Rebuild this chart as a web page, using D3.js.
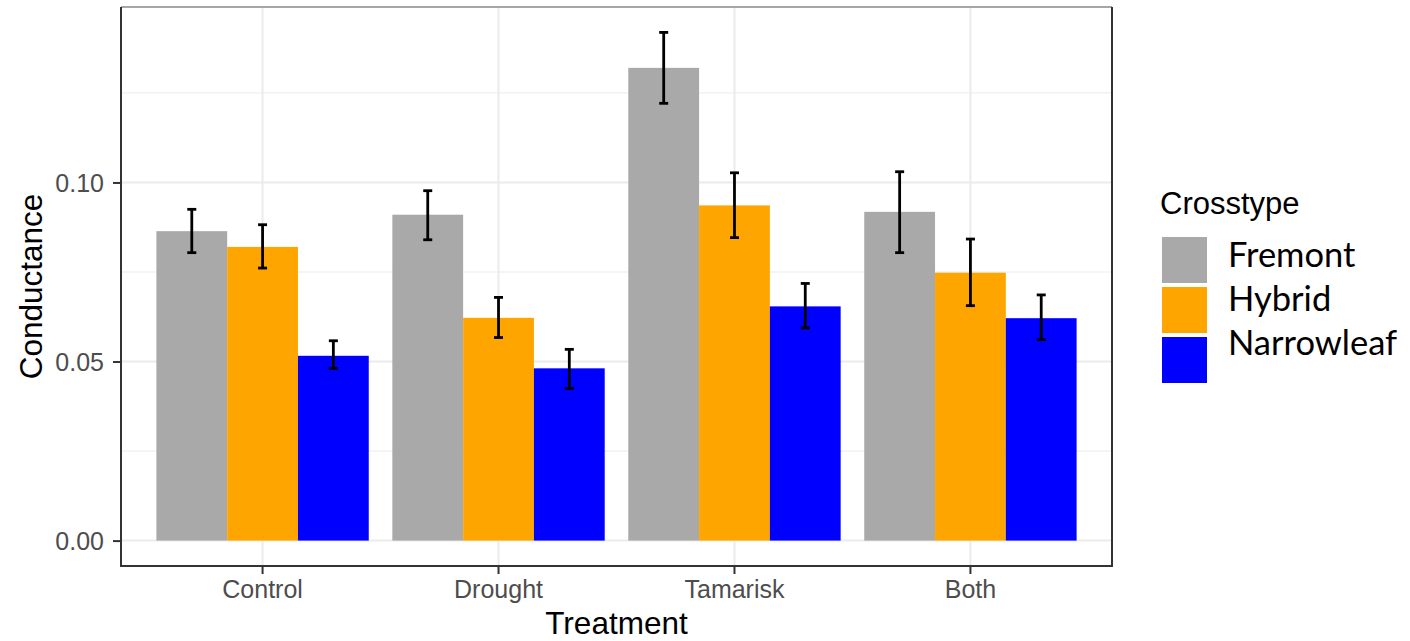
<!DOCTYPE html>
<html>
<head>
<meta charset="utf-8">
<title>Conductance by treatment</title>
<script src="https://d3js.org/d3.v7.min.js"></script>
<style>
  body { margin: 0; background: #fff; }
  text { font-family: "Liberation Sans", Arial, sans-serif; }
</style>
</head>
<body>
<script>
// data
var treatments = ["Control", "Drought", "Tamarisk", "Both"];
var crosstypes = ["Fremont", "Hybrid", "Narrowleaf"];
var colors = ["#A9A9A9", "#FFA500", "#0000FF"];
// mean conductance, one row per treatment, columns follow crosstypes
var means = [
    [0.0864, 0.0820, 0.0516],
    [0.0910, 0.0622, 0.0481],
    [0.1320, 0.0936, 0.0654],
    [0.0918, 0.0748, 0.0621]
];
var errLow = [
    [0.0804, 0.0761, 0.0481],
    [0.0840, 0.0567, 0.0425],
    [0.1221, 0.0846, 0.0594],
    [0.0804, 0.0656, 0.0561]
];
var errHigh = [
    [0.0925, 0.0882, 0.0558],
    [0.0977, 0.0679, 0.0534],
    [0.1419, 0.1027, 0.0718],
    [0.1030, 0.0842, 0.0686]
];
var yTicks = [0, 0.05, 0.10];
var yMinor = [0.025, 0.075, 0.125];

var W = 1410, H = 641;
var pLeft = 121, pRight = 1112, pTop = 7, pBottom = 566;

var svg = d3.select("body").append("svg")
    .attr("width", W)
    .attr("height", H);

var rows = [];
treatments.forEach(function(t, i) {
    crosstypes.forEach(function(c, j) {
        rows.push({t: t, c: c, j: j, v: means[i][j], lo: errLow[i][j], hi: errHigh[i][j]});
    });
});

// ggplot style 5% expansion
var yMax = d3.max(rows, function(d) { return d.hi; });
var pad = yMax * 0.05;
var y = d3.scaleLinear().domain([-pad, yMax + pad]).range([pBottom, pTop]);

var x = d3.scaleBand().domain(treatments).range([pLeft, pRight])
    .paddingInner(0.1).paddingOuter(0.15);
var xSub = d3.scaleBand().domain(crosstypes).range([0, x.bandwidth()]);
var color = d3.scaleOrdinal().domain(crosstypes).range(colors);

// grid
var grid = svg.append("g");
grid.selectAll(".minor").data(yMinor).enter().append("line")
    .attr("x1", pLeft).attr("x2", pRight)
    .attr("y1", function(d) { return y(d); })
    .attr("y2", function(d) { return y(d); })
    .attr("stroke", "#EBEBEB").attr("stroke-width", 1);
grid.selectAll(".major").data(yTicks).enter().append("line")
    .attr("x1", pLeft).attr("x2", pRight)
    .attr("y1", function(d) { return y(d); })
    .attr("y2", function(d) { return y(d); })
    .attr("stroke", "#EBEBEB").attr("stroke-width", 2);
grid.selectAll(".vx").data(treatments).enter().append("line")
    .attr("x1", function(d) { return x(d) + x.bandwidth() / 2; })
    .attr("x2", function(d) { return x(d) + x.bandwidth() / 2; })
    .attr("y1", pTop).attr("y2", pBottom)
    .attr("stroke", "#EBEBEB").attr("stroke-width", 2);

// bars
svg.append("g").selectAll("rect").data(rows).enter().append("rect")
    .attr("x", function(d) { return x(d.t) + xSub(d.c); })
    .attr("width", xSub.bandwidth())
    .attr("y", function(d) { return y(d.v); })
    .attr("height", function(d) { return y(0) - y(d.v); })
    .attr("fill", function(d) { return color(d.c); });

// error bars
var eb = svg.append("g").attr("stroke", "#000").attr("stroke-width", 2.8);
var capW = 4.5;
rows.forEach(function(d) {
    var cx = x(d.t) + xSub(d.c) + xSub.bandwidth() / 2;
    eb.append("line").attr("x1", cx).attr("x2", cx)
        .attr("y1", y(d.lo)).attr("y2", y(d.hi));
    eb.append("line").attr("x1", cx - capW).attr("x2", cx + capW)
        .attr("y1", y(d.lo)).attr("y2", y(d.lo));
    eb.append("line").attr("x1", cx - capW).attr("x2", cx + capW)
        .attr("y1", y(d.hi)).attr("y2", y(d.hi));
});

// panel border
svg.append("line").attr("x1", pLeft).attr("x2", pRight).attr("y1", pTop).attr("y2", pTop)
    .attr("stroke", "#888").attr("stroke-width", 1.5);
svg.append("path")
    .attr("d", "M" + pRight + "," + pTop + "V" + pBottom + "H" + pLeft + "V" + pTop)
    .attr("fill", "none").attr("stroke", "#333").attr("stroke-width", 2);

// axes
var yAxis = svg.append("g").attr("transform", "translate(" + pLeft + ",0)")
    .call(d3.axisLeft(y).tickValues(yTicks).tickFormat(d3.format(".2f")).tickSize(8).tickPadding(9));
var xAxis = svg.append("g").attr("transform", "translate(0," + pBottom + ")")
    .call(d3.axisBottom(x).tickSize(8).tickPadding(6));
[yAxis, xAxis].forEach(function(a) {
    a.select(".domain").remove();
    a.selectAll(".tick line").attr("stroke", "#333").attr("stroke-width", 2);
    a.selectAll(".tick text").attr("fill", "#4D4D4D")
        .style("font-size", "25px");
});
yAxis.selectAll(".tick text").attr("dy", "0.36em");

// axis titles
svg.append("text").attr("x", (pLeft + pRight) / 2).attr("y", 634)
    .attr("text-anchor", "middle").style("font-size", "31.5px").attr("fill", "#000")
    .text("Treatment");
svg.append("text")
    .attr("transform", "translate(42," + (pTop + pBottom) / 2 + ") rotate(-90)")
    .attr("text-anchor", "middle").style("font-size", "31.5px").attr("fill", "#000")
    .text("Conductance");

// legend
var lg = svg.append("g");
lg.append("text").attr("x", 1160).attr("y", 214)
    .style("font-size", "31px").attr("fill", "#000").text("Crosstype");
var keyY = [237, 287, 337];
var labY = [267, 311, 355];
crosstypes.forEach(function(c, i) {
    lg.append("rect").attr("x", 1162).attr("y", keyY[i])
        .attr("width", 45).attr("height", 46).attr("fill", color(c));
    lg.append("text").attr("x", 1228).attr("y", labY[i])
        .style("font-family", "Lato, 'Liberation Sans', sans-serif")
        .style("font-size", "34.5px").attr("fill", "#000").text(c);
});
</script>
</body>
</html>
